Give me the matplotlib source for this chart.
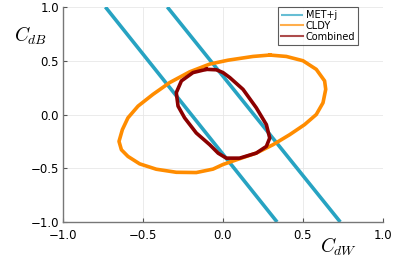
import matplotlib
matplotlib.use("Agg")
import matplotlib.pyplot as plt
import numpy as np

plt.rcParams['mathtext.fontset'] = 'cm'

# MET+j bands: (x at y=+1, x at y=-1)
metj_top_x = [-0.735, -0.348]
metj_bot_x = [0.338, 0.733]
metj_y = [1.0, -1.0]

# CLDY contour
cldy_x = [0.292, 0.396, 0.5, 0.583, 0.635, 0.642, 0.625, 0.583, 0.51, 0.417, 0.3125,
          0.208, 0.083, 0.0, -0.0625, -0.167, -0.292, -0.417, -0.521, -0.594, -0.635,
          -0.65, -0.629, -0.594, -0.531, -0.4375, -0.333, -0.208, -0.083, 0.031,
          0.1875, 0.292]
cldy_y = [0.553, 0.54, 0.5, 0.42, 0.3125, 0.234, 0.109, 0.0, -0.094, -0.1875, -0.281,
          -0.359, -0.422, -0.465, -0.508, -0.54, -0.5375, -0.509, -0.459, -0.39, -0.328,
          -0.25, -0.141, -0.031, 0.078, 0.1875, 0.297, 0.397, 0.469, 0.505,
          0.54, 0.553]

# Combined contour
comb_x = [-0.104, -0.042, 0.0, 0.042, 0.125, 0.208, 0.271, 0.292, 0.271, 0.208, 0.104,
          0.021, -0.03, -0.083, -0.167, -0.24, -0.281, -0.292, -0.26, -0.1875, -0.104]
comb_y = [0.42, 0.416, 0.39, 0.344, 0.234, 0.0625, -0.094, -0.219, -0.297, -0.359,
          -0.406, -0.406, -0.36, -0.281, -0.172, -0.031, 0.078, 0.203, 0.3125, 0.39, 0.42]

c_met = '#27a3c2'
c_cldy = '#ff8c00'
c_comb = '#8b0000'

fig = plt.figure(figsize=(3.99, 2.66), dpi=100)
ax = fig.add_axes([63/399, 1-222/266, 320/399, 215/266])

for i in range(len(metj_top_x)):
    ax.plot([metj_top_x[i], metj_bot_x[i]], metj_y, color=c_met, lw=2.6,
            label='MET+j' if i == 0 else None, solid_capstyle='butt')
ax.plot(cldy_x, cldy_y, color=c_cldy, lw=2.6, label='CLDY', solid_joinstyle='round')
ax.plot(comb_x, comb_y, color=c_comb, lw=2.6, label='Combined', solid_joinstyle='round')

ax.set_xlim(-1, 1)
ax.set_ylim(-1, 1)
ticks = [-1.0, -0.5, 0.0, 0.5, 1.0]
ax.set_xticks(ticks)
ax.set_yticks(ticks)
ax.set_xticklabels(['\u22121.0', '\u22120.5', '0.0', '0.5', '1.0'])
ax.set_yticklabels(['\u22121.0', '\u22120.5', '0.0', '0.5', '1.0'])
ax.tick_params(direction='in', length=3, width=0.8, color='#555555', labelsize=8.5, pad=3)
ax.tick_params(axis='x', pad=5)
ax.grid(True, color='#e8e8e8', lw=0.6)
ax.set_axisbelow(True)
for s in ['top', 'right']:
    ax.spines[s].set_visible(False)
for s in ['left', 'bottom']:
    ax.spines[s].set_color('#777777')
    ax.spines[s].set_linewidth(1.0)

fig.text(14/399, 1-42/266, r'$C_{dB}$', fontsize=14)
fig.text(320/399, 1-253/266, r'$C_{dW}$', fontsize=14)

leg = ax.legend(loc='upper right', bbox_to_anchor=(358/399, 1-7/266),
                bbox_transform=fig.transFigure, fontsize=7, frameon=True,
                fancybox=False, handlelength=2.2, handletextpad=0.3,
                borderpad=0.3, labelspacing=0.1, borderaxespad=0)
leg.get_frame().set_edgecolor('#333333')
leg.get_frame().set_linewidth(0.8)
for l in leg.get_lines():
    l.set_linewidth(1.5)
    l.set_alpha(0.7)

fig.savefig('out.png', dpi=100)
